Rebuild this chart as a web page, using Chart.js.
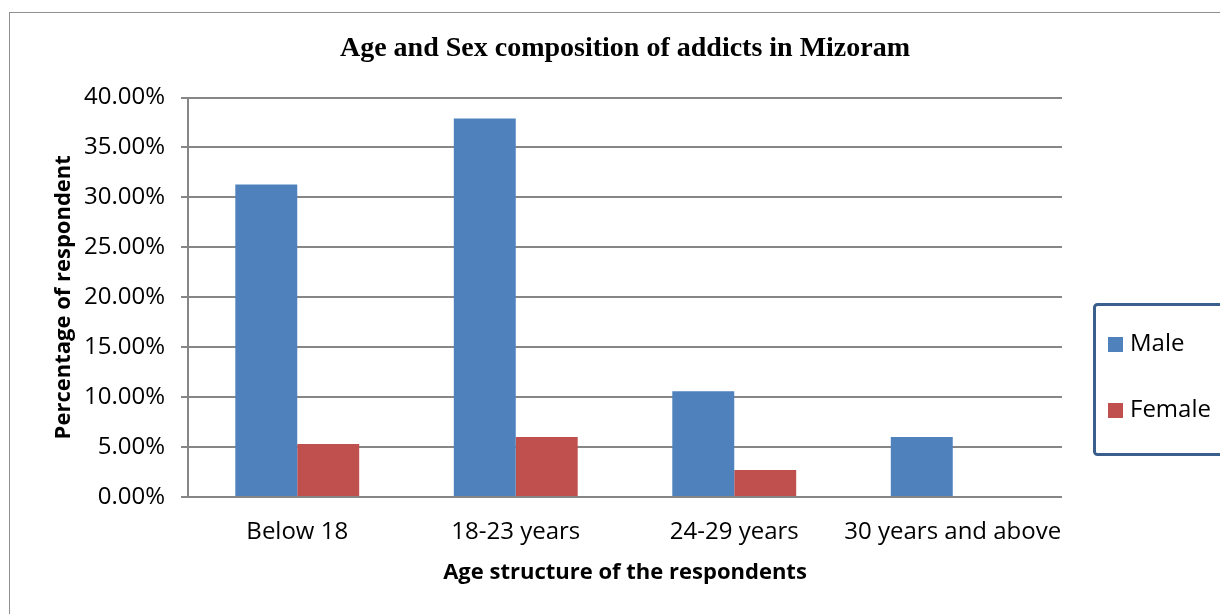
<!DOCTYPE html>
<html><head><meta charset="utf-8">
<script src="https://cdn.jsdelivr.net/npm/chart.js@4.4.0/dist/chart.umd.min.js"></script>
<style>html,body{margin:0;padding:0;background:#fff;overflow:hidden}#wrap{width:1220px;height:614px;position:relative}</style>
</head><body><div id="wrap"><canvas id="c" width="1220" height="614"></canvas></div>
<script>
const categories = ['Below 18', '18-23 years', '24-29 years', '30 years and above'];
const maleValues = [31.3, 37.9, 10.6, 6.0];
const femaleValues = [5.3, 6.0, 2.7, 0];
const seriesNames = ['Male', 'Female'];
const seriesColors = ['#4F81BD', '#C0504D'];
const yTickValues = [0, 5, 10, 15, 20, 25, 30, 35, 40];
const chartTitle = 'Age and Sex composition of addicts in Mizoram';
const xAxisTitle = 'Age structure of the respondents';
const yAxisTitle = 'Percentage of respondent';

const SANS = "'Open Sans', sans-serif";
const GRID = '#868686';

const frameAndLegend = {
  id: 'frameAndLegend',
  afterDraw(chart) {
    const ctx = chart.ctx;
    ctx.save();
    // outer frame
    ctx.strokeStyle = '#8f8f8f';
    ctx.lineWidth = 1;
    ctx.strokeRect(9.5, 12.5, 1300, 700);
    // legend box
    ctx.strokeStyle = '#3A5F8D';
    ctx.lineWidth = 3;
    ctx.fillStyle = '#ffffff';
    ctx.beginPath();
    ctx.roundRect(1094.5, 304.5, 140, 150, 3);
    ctx.fill();
    ctx.stroke();
    ctx.font = "24px " + SANS;
    ctx.textBaseline = 'middle';
    ctx.textAlign = 'left';
    chart.data.datasets.forEach((ds, i) => {
      const cy = 344 + i * 66;
      ctx.fillStyle = ds.backgroundColor;
      ctx.fillRect(1108, cy - 7, 15, 15);
      ctx.fillStyle = '#000';
      ctx.fillText(ds.label, 1130, cy);
    });
    ctx.restore();
  }
};

new Chart(document.getElementById('c'), {
  type: 'bar',
  data: {
    labels: categories,
    datasets: [
      { label: seriesNames[0], data: maleValues, backgroundColor: seriesColors[0] },
      { label: seriesNames[1], data: femaleValues, backgroundColor: seriesColors[1] }
    ]
  },
  options: {
    responsive: false,
    devicePixelRatio: 1,
    animation: false,
    categoryPercentage: 0.567,
    barPercentage: 1,
    layout: { padding: { left: 10, right: 158, top: 10, bottom: 0 } },
    plugins: {
      legend: { display: false },
      tooltip: { enabled: false },
      title: {
        display: true,
        text: chartTitle,
        fullSize: false,
        color: '#000',
        font: { family: "'Liberation Serif', 'Times New Roman', serif", size: 28, weight: 'bold', lineHeight: 1.2 },
        padding: { top: 21.7, bottom: 32.2 }
      }
    },
    scales: {
      x: {
        grid: { display: false, drawTicks: false },
        border: { display: false },
        ticks: { color: '#000', font: { family: SANS, size: 24 }, padding: 21, maxRotation: 0, autoSkip: false },
        title: { display: true, text: xAxisTitle, color: '#000', font: { family: SANS, size: 22, weight: 'bold', lineHeight: 1.2 }, padding: { top: 0, bottom: 27.8 } },
        afterFit(s) { s.height = 117; }
      },
      y: {
        min: 0, max: 40,
        afterBuildTicks(s) { s.ticks = yTickValues.map(v => ({ value: v })); },
        grid: { color: GRID, lineWidth: 2, tickLength: 7, drawTicks: true },
        border: { display: true, color: GRID, width: 2 },
        ticks: { color: '#000', font: { family: SANS, size: 24 }, padding: 16, callback: v => Number(v).toFixed(2) + '%' },
        title: { display: true, text: yAxisTitle, color: '#000', font: { family: SANS, size: 22, weight: 'bold', lineHeight: 1.2 }, padding: { top: 40.8, bottom: 0 } },
        afterFit(s) { s.width = 178; }
      }
    }
  },
  plugins: [frameAndLegend]
});
</script>
</body></html>
